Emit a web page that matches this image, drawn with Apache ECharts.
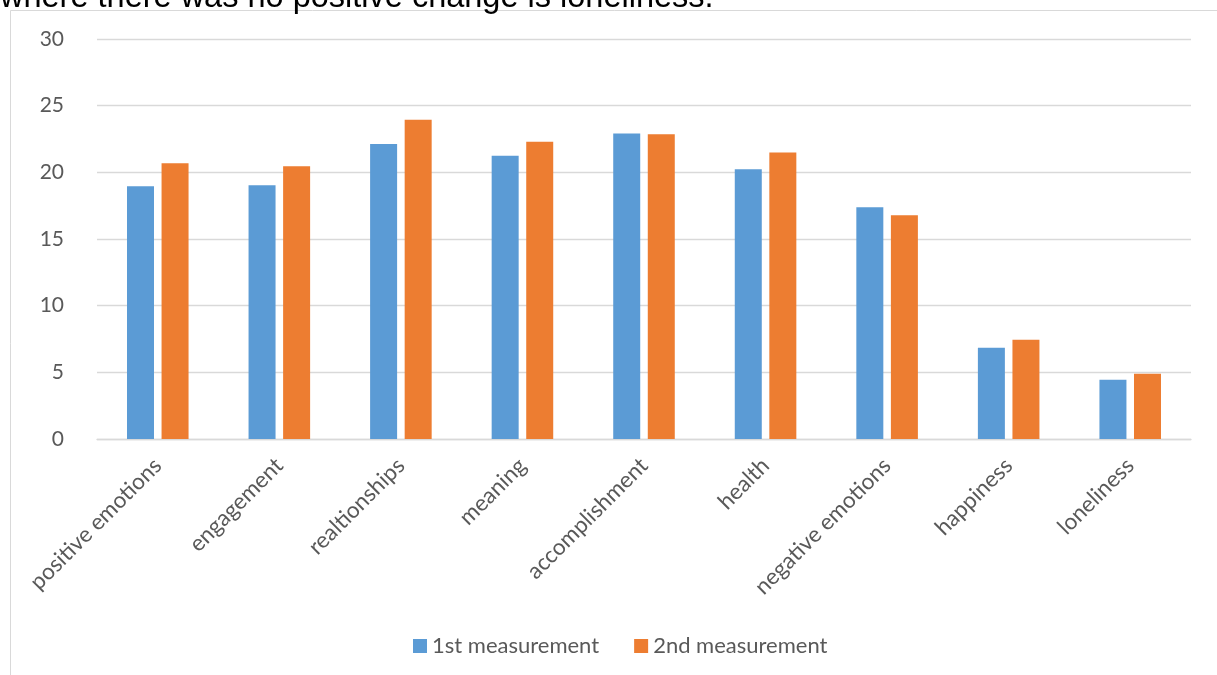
<!DOCTYPE html>
<html>
<head>
<meta charset="utf-8">
<script src="https://cdn.jsdelivr.net/npm/echarts@6/dist/echarts.min.js"></script>
<style>
html,body{margin:0;padding:0;background:#fff;}
#chart{width:1217px;height:675px;}
</style>
</head>
<body>
<div id="chart"></div>
<script>
var categories = ['positive emotions','engagement','realtionships','meaning','accomplishment','health','negative emotions','happiness','loneliness'];
var first = [18.95, 19.03, 22.13, 21.25, 22.92, 20.23, 17.38, 6.85, 4.45];
var second = [20.68, 20.45, 23.95, 22.30, 22.85, 21.48, 16.78, 7.45, 4.90];
var seriesNames = ['1st measurement', '2nd measurement'];
var yTicks = {min: 0, max: 30, interval: 5};
var captionText = 'where there was no positive change is loneliness.';

var chart = echarts.init(document.getElementById('chart'));
var labelFont = 'Lato';
chart.setOption({
  animation: false,
  backgroundColor: '#ffffff',
  color: ['#5B9BD5', '#ED7D31'],
  graphic: [
    {type: 'rect', silent: true, shape: {x: 10.5, y: 10.5, width: 1400, height: 900},
     style: {fill: 'none', stroke: '#d9d9d9', lineWidth: 1}},
    {type: 'text', silent: true, x: 0, y: -2,
     style: {text: captionText, x: 0, y: 0, verticalAlign: 'middle', align: 'left',
             font: '32.5px "Liberation Sans", Arial, sans-serif', fill: '#000000'}}
  ],
  grid: {left: 97, right: 26, top: 39, bottom: 236, containLabel: false},
  legend: {
    data: seriesNames,
    left: 408, top: 630,
    itemWidth: 14, itemHeight: 14, itemGap: 35,
    icon: 'rect',
    textStyle: {fontFamily: labelFont, fontSize: 22, color: '#595959'}
  },
  xAxis: {
    type: 'category',
    data: categories,
    axisLine: {show: true, lineStyle: {color: '#d9d9d9', width: 1.3}},
    axisTick: {show: false},
    axisLabel: {rotate: 45, margin: 23, interval: 0, fontFamily: labelFont, fontSize: 22.5, color: '#595959'}
  },
  yAxis: {
    type: 'value',
    min: yTicks.min, max: yTicks.max, interval: yTicks.interval,
    axisLine: {show: false},
    axisTick: {show: false},
    splitLine: {lineStyle: {color: '#d9d9d9', width: 1.3}},
    axisLabel: {margin: 33, fontFamily: labelFont, fontSize: 21, color: '#595959'}
  },
  series: [
    {name: seriesNames[0], type: 'bar', data: first, barWidth: 27, barGap: '28%'},
    {name: seriesNames[1], type: 'bar', data: second, barWidth: 27, barGap: '28%'}
  ]
});
</script>
</body>
</html>
